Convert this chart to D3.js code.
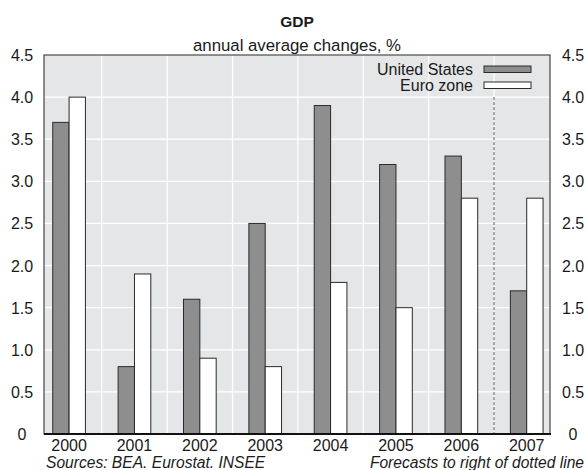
<!DOCTYPE html>
<html><head><meta charset="utf-8">
<script src="https://cdn.jsdelivr.net/npm/d3@7/dist/d3.min.js"></script>
<style>body{margin:0;background:#fff}svg{display:block}text{font-family:"Liberation Sans",Arial,sans-serif;fill:#1a1a1a}</style>
</head><body>
<script>
const years = ["2000","2001","2002","2003","2004","2005","2006","2007"];
const usValues = [3.7,0.8,1.6,2.5,3.9,3.2,3.3,1.7];
const euroValues = [4.0,1.9,0.9,0.8,1.8,1.5,2.8,2.8];
const seriesNames = ["United States","Euro zone"];
const yTicks = [0,0.5,1.0,1.5,2.0,2.5,3.0,3.5,4.0,4.5];
const forecastStart = "2007";

const W=587,H=470;
const L=44,R=550,T=55,B=434;
const svg=d3.select("body").append("svg").attr("width",W).attr("height",H);
const x=d3.scaleBand().domain(years).range([36.4,559.4]);
const sub=d3.scaleBand().domain(seriesNames).range([0,x.bandwidth()]).paddingOuter(1);
const y=d3.scaleLinear().domain([0,4.5]).range([B,T]);

svg.append("defs").append("clipPath").attr("id","c").append("rect").attr("x",L).attr("y",T).attr("width",R-L).attr("height",B-T);
svg.append("rect").attr("x",L).attr("y",T).attr("width",R-L).attr("height",B-T).attr("fill","#e5e6e8");
const g=svg.append("g").attr("clip-path","url(#c)");
g.selectAll(".hg").data(yTicks).join("line").attr("x1",L).attr("x2",R).attr("y1",d=>y(d)).attr("y2",d=>y(d)).attr("stroke","#fff").attr("stroke-width",1.2);
g.selectAll(".vg").data(years).join("line").attr("x1",d=>x(d)+x.bandwidth()).attr("x2",d=>x(d)+x.bandwidth()).attr("y1",T).attr("y2",B).attr("stroke","#fff").attr("stroke-width",1.2);

const colors={"United States":"#8e8e8e","Euro zone":"#ffffff"};
const data=years.map((yr,i)=>({yr,vals:[{s:seriesNames[0],v:usValues[i]},{s:seriesNames[1],v:euroValues[i]}]}));
const grp=g.selectAll(".grp").data(data).join("g").attr("transform",d=>`translate(${x(d.yr)},0)`);
grp.selectAll("rect").data(d=>d.vals).join("rect")
 .attr("x",d=>sub(d.s)).attr("width",sub.bandwidth())
 .attr("y",d=>y(d.v)).attr("height",d=>B-y(d.v))
 .attr("fill",d=>colors[d.s]).attr("stroke","#2a2a2a").attr("stroke-width",1);

const dx=x(forecastStart);
g.append("line").attr("x1",dx).attr("x2",dx).attr("y1",y(4.0)).attr("y2",B).attr("stroke","#555").attr("stroke-width",1).attr("stroke-dasharray","3,2");

// border
svg.append("rect").attr("x",L).attr("y",T).attr("width",R-L).attr("height",B-T).attr("fill","none").attr("stroke","#222").attr("stroke-width",1);
svg.append("line").attr("x1",L).attr("x2",R+1).attr("y1",B).attr("y2",B).attr("stroke","#111").attr("stroke-width",2.2);

// y labels
[22,573].forEach(px=>{
 svg.selectAll(null).data(yTicks).join("text").attr("x",px).attr("y",d=>y(d)+6).attr("text-anchor","middle").attr("font-size",16)
  .text(d=>d===0?"0":d3.format(".1f")(d));
});
// x labels
svg.selectAll(".xl").data(years).join("text").attr("x",d=>x(d)+x.bandwidth()/2).attr("y",450.5).attr("text-anchor","middle").attr("font-size",16).text(d=>d);

svg.append("text").attr("x",297).attr("y",27).attr("text-anchor","middle").attr("font-size",15.5).attr("font-weight","bold").text("GDP");
svg.append("text").attr("x",297).attr("y",51).attr("text-anchor","middle").attr("font-size",16.8).text("annual average changes, %");

// legend
seriesNames.forEach((s,i)=>{
 const ly=75+i*16;
 svg.append("text").attr("x",473).attr("y",ly).attr("text-anchor","end").attr("font-size",16).text(s);
 svg.append("rect").attr("x",484).attr("y",ly-9).attr("width",47).attr("height",6.5).attr("fill",colors[s]).attr("stroke","#2a2a2a").attr("stroke-width",1);
});

svg.append("text").attr("x",46).attr("y",467.5).attr("font-size",15.6).attr("font-style","italic").text("Sources: BEA. Eurostat. INSEE");
svg.append("text").attr("x",584).attr("y",467.5).attr("text-anchor","end").attr("font-size",15.6).attr("font-style","italic").text("Forecasts to right of dotted line");
</script>
</body></html>
